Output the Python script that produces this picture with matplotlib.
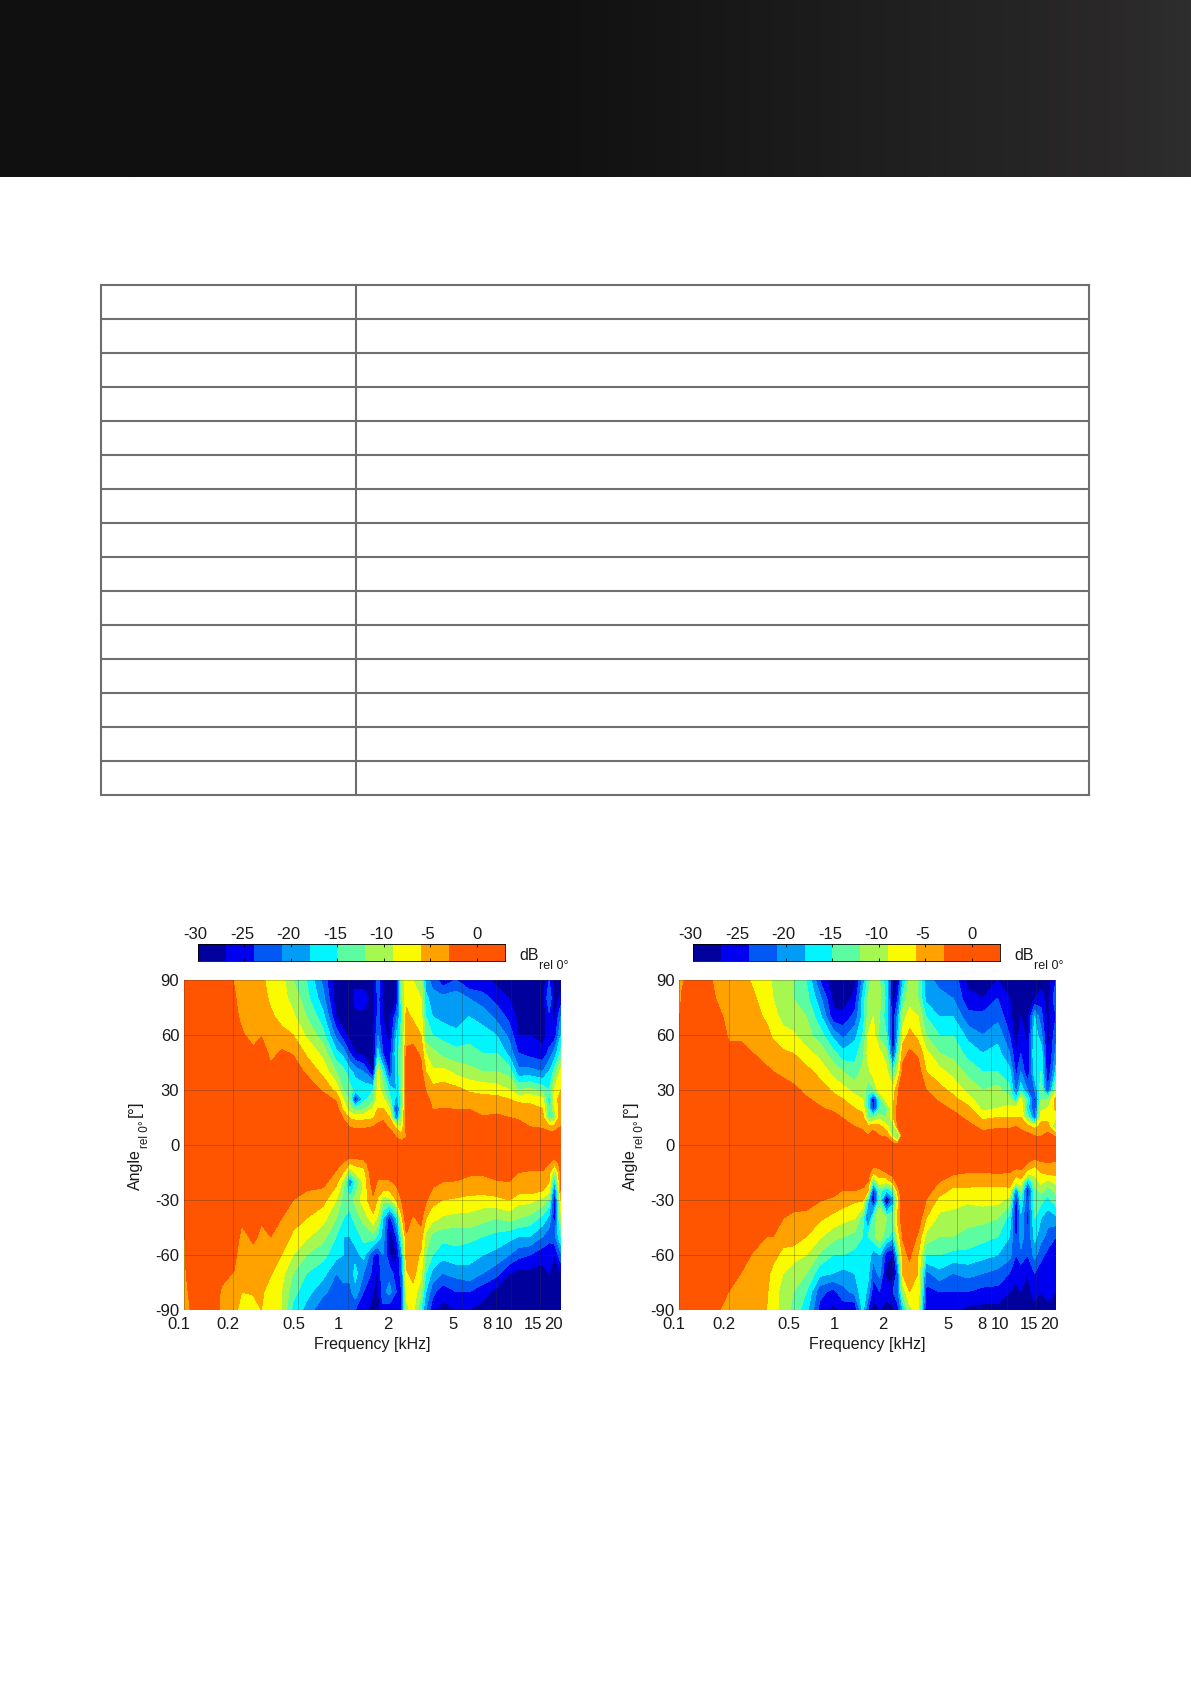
import matplotlib
matplotlib.use('Agg')
import matplotlib.pyplot as plt
from matplotlib.colors import BoundaryNorm, LinearSegmentedColormap, ListedColormap
from matplotlib.transforms import ScaledTranslation
import numpy as np

plt.rcParams['font.family'] = ['Liberation Sans', 'DejaVu Sans']

W, H = 1191, 1684

# dB bands of the colour bar
levels = [-30, -27, -24, -21, -18, -15, -12, -9, -6, -3, 0, 3]
band_colors = ['#00009c', '#0000f0', '#0058f5', '#009cf5', '#00f5ff', '#5cfca0',
               '#a6f850', '#fbfb00', '#ffa200', '#ff5500', '#ff5500']
cbar_ticks = [-30, -25, -20, -15, -10, -5, 0]
cbar_labels = ['-30', '-25', '-20', '-15', '-10', '-5', '0']

angles = [90, 80, 70, 60, 50, 40, 30, 25, 20, 15, 10, 5, 0,
          -5, -10, -15, -20, -25, -30, -40, -50, -60, -70, -80, -90]
angle_ticks = [-90, -60, -30, 0, 30, 60, 90]

freq_ticks = [0.1, 0.2, 0.5, 1, 2, 5, 8, 10, 15, 20]
freq_labels = ['0.1', '0.2', '0.5', '1', '2', '5', '8', '10', '15', '20']
# labels sit a little left of their grid line in the original
freq_label_shift = [-5, -5, -5, -9, -9, -9, -9, -7, -7, -7]

# header gradient, left to right
header_pos = [0, 0.45, 0.65, 0.8, 0.93, 1]
header_cols = ['#101010', '#101010', '#1a1a1a', '#222222', '#2a2828', '#2e2e2e']

table_rows = 15

# one list per frequency, angle +90 down to -90
left_freqs = [0.1, 0.109, 0.144, 0.17, 0.202, 0.225, 0.265, 0.297, 0.339, 0.394, 0.464,
              0.56, 0.707, 0.85, 0.94, 1.03, 1.11, 1.25, 1.43, 1.53, 1.64, 1.8, 1.98,
              2.13, 2.28, 2.5, 2.8, 3.0, 3.3, 3.8, 4.6, 5.5, 6.7, 8.1, 9.7, 11, 12.9,
              15.5, 17, 18.3, 20]
left_db = [
    [0, 0, 0, 0, 0, 0, 0, 0, 0, 0, 0, 0, 0, 0, 0, 0, 0, 0, 0, -2, -3.5, -4, -4.5, -5, -5],
    [0, 0, 0, 0, 0, 0, 0, 0, 0, 0, 0, 0, 0, 0, 0, 0, 0, 0, 0, 0, 0, 0, 0, -2, -3],
    [0, 0, 0, 0, 0, 0, 0, 0, 0, 0, 0, 0, 0, 0, 0, 0, 0, 0, 0, 0, 0, 0, 0, 0, 0],
    [0, 0, 0, 0, 0, 0, 0, 0, 0, 0, 0, 0, 0, 0, 0, 0, 0, 0, 0, 0, 0, 0, -2, -3.5, -4],
    [-3.2, -2.5, -2, -1, 0, 0, 0, 0, 0, 0, 0, 0, 0, 0, 0, 0, 0, 0, 0, 0, 0, -2, -3.2, -4, -4.5],
    [-4.5, -4.5, -3.8, -2.5, -1, 0, 0, 0, 0, 0, 0, 0, 0, 0, 0, 0, 0, 0, 0, -2, -4.5, -5, -5, -6, -8],
    [-5, -5, -5, -4.5, -2, 0, 0, 0, 0, 0, 0, 0, 0, 0, 0, 0, 0, 0, 0, 0, -2, -4.5, -5, -5.5, -8],
    [-5.5, -5, -5, -3.2, -1, 0, 0, 0, 0, 0, 0, 0, 0, 0, 0, 0, 0, 0, 0, -2.5, -4, -5, -5, -5.5, -6],
    [-7, -6.5, -5.5, -5, -4, -2, 0, 0, 0, 0, 0, 0, 0, 0, 0, 0, 0, 0, 0, -1.5, -3, -4.5, -5.8, -7.5, -8],
    [-8, -8, -7, -5, -2.5, -1, 0, 0, 0, 0, 0, 0, 0, 0, 0, 0, 0, 0, -1, -3, -4.5, -6, -8, -9, -9],
    [-12, -10, -8.5, -6, -3.2, -1.5, 0, 0, 0, 0, 0, 0, 0, 0, 0, 0, -1, -2, -3, -5, -6.5, -9, -12, -14, -16],
    [-15, -14, -12, -9.5, -6.5, -3.5, -1, 0, 0, 0, 0, 0, 0, 0, 0, 0, -1.5, -3, -3.8, -6, -8.5, -12, -15, -17, -19],
    [-22, -20, -17, -14, -10, -7, -3.5, -1.5, 0, 0, 0, 0, 0, 0, 0, 0, -2, -3.5, -5, -8, -11, -14, -17, -20, -24],
    [-29, -29, -27, -22, -17, -12, -7, -3.5, -1.5, 0, 0, 0, 0, 0, -1.5, -3.5, -5, -7, -9, -12, -15, -17, -21, -23, -24],
    [-29, -29, -29, -26, -19, -14, -12, -9, -7, -3.5, -1, 0, 0, 0, -3.5, -6, -10, -12, -13, -15, -18, -18, -20, -22, -24],
    [-29, -29, -29, -28, -24, -17, -14, -13, -11, -6.5, -3.2, -1, 0, -1, -6, -12, -22, -17, -14, -16, -18, -19, -20, -22, -24],
    [-28, -26, -28, -29, -27, -19, -16, -27, -14, -7, -3.5, -1, 0, -1, -5, -9, -15, -13, -11, -14, -17, -19, -17, -19, -24],
    [-29, -25, -28, -29, -28, -21, -16, -16, -13, -7, -3.5, -1, 0, -1, -4.5, -7.5, -8, -8, -7.5, -11, -14, -17, -21, -24, -26],
    [-29, -29, -28, -28, -29, -27, -15, -13, -9, -6.5, -3, -1, 0, 0, 0, 0, -1, -2.5, -3.5, -7, -13, -24, -25, -27, -28],
    [-22, -23, -23, -21, -17, -8, -7.5, -7, -6, -3.8, -2.5, -1, 0, 0, 0, -1, -3.5, -5, -6.5, -10, -16, -25, -28, -28, -28],
    [-27, -28, -27, -26, -24, -15, -11, -8, -6, -3.5, -2, 0, 0, 0, 0, -1, -3.5, -6, -11, -18, -19, -21, -21, -22, -25],
    [-29, -29, -28, -28, -26, -25, -16, -14, -9, -6, -3.5, -1, 0, 0, 0, -1, -3.5, -6, -10, -26, -29, -27, -22, -20, -26],
    [-29, -28, -22, -18, -16, -17, -18, -19, -25, -22, -7, -3.5, -1, 0, 0, 0, -2, -4, -6, -18, -24, -28, -26, -24, -26],
    [-10, -13, -15, -14, -13, -13, -13, -14, -13, -11, -9, -5, -1, 0, 0, 0, 0, -1.5, -3, -7, -14, -20, -23, -24, -24],
    [-8, -7, -5, -4, -2.5, -1, 0, 0, 0, 0, -1, -3.5, -1, 0, 0, 0, 0, 0, 0, -1, -3.5, -4.5, -6.5, -8, -10],
    [-9, -8, -6.5, -4, -2, 0, 0, 0, 0, 0, 0, 0, 0, 0, 0, 0, 0, 0, 0, -3.5, -3.5, -4.5, -5, -7, -8],
    [-10, -9, -7.5, -6, -3.5, -2, 0, 0, 0, 0, 0, 0, 0, 0, 0, 0, 0, 0, -1, -2, -4.5, -6.5, -8, -11, -15],
    [-20, -17, -15, -14, -9, -6, -3.2, -2, -1, 0, 0, 0, 0, -1, -3, -1, 0, -1, -2.5, -6, -10, -12, -15, -18, -21],
    [-22, -20, -18, -15, -11, -8.5, -5, -4, -3.2, -2, -1, 0, 0, 0, -1, -2, -2, -3.5, -5, -8, -13, -15, -19, -23, -26],
    [-26, -20, -19, -16, -13, -8, -4.5, -4, -3, -1.5, 0, 0, 0, 0, 0, -1, -3, -4.5, -6, -9.5, -14, -17, -21, -26, -28],
    [-24, -19, -20, -17, -14, -10, -5, -4.5, -3.2, -1.5, 0, 0, 0, 0, 0, -1, -3.2, -4.5, -6.5, -10, -14, -16, -20, -24, -27],
    [-27, -21, -18, -16, -14, -11, -6.5, -4.5, -3.2, -1.5, 0, 0, 0, 0, 0, -2.5, -3.8, -5, -7, -10, -14, -17, -19, -24, -27],
    [-26, -23, -19, -17, -15, -12, -7, -5, -4, -2.8, -1, 0, 0, 0, 0, -2.5, -4, -5, -7.5, -11, -15, -18, -21, -26, -28],
    [-28, -25, -22, -18, -15, -12, -7.5, -5, -3.8, -2.5, -1, 0, 0, 0, 0, -2, -3.2, -4.5, -7, -12, -16, -19, -23, -28, -29],
    [-28, -27, -25, -22, -19, -13, -9, -6, -4, -3, -1, 0, 0, 0, 0, -1.5, -3, -3.8, -6, -11, -17, -21, -27, -29, -29],
    [-29, -29, -28, -27, -24, -20, -12, -7, -4.5, -3.5, -1.5, 0, 0, 0, 0, -3, -5, -5, -8, -12, -18, -23, -28, -29, -29],
    [-29, -29, -28, -27, -25, -20, -11, -7, -5, -4, -3, -1, 0, 0, -1, -3.5, -4.5, -5, -8, -13, -18, -24, -28, -29, -29],
    [-29, -29, -29, -28, -26, -21, -13, -8, -6, -5, -3.5, -1, 0, 0, -1, -3.5, -4.5, -6, -10, -16, -21, -26, -28, -29, -29],
    [-24, -21, -25, -26, -23, -18, -15, -17, -16, -14, -5, -1, 0, 0, -3, -5, -6, -8, -13, -19, -23, -26, -27, -29, -29],
    [-29, -29, -28, -26, -20, -14, -9, -7, -9, -12, -5, -1, 0, -1, -5, -12, -18, -24, -27, -26, -22, -27, -28, -28, -28],
    [-29, -26, -21, -18, -14, -8, -6, -5, -4.5, -3.5, -3, -1, 0, -1, -2, -2.5, -2, -3, -6, -10, -15, -22, -27, -27, -28],
]

right_freqs = [0.1, 0.104, 0.128, 0.169, 0.2, 0.237, 0.283, 0.341, 0.374, 0.431, 0.496,
               0.597, 0.72, 0.87, 1.0, 1.18, 1.32, 1.42, 1.53, 1.67, 1.84, 2.02, 2.16,
               2.32, 2.55, 2.87, 3.22, 3.88, 4.69, 5.78, 7.14, 8.81, 10.4, 11.4, 12.2,
               13.4, 14.8, 16.2, 17.8, 20]
right_db = [
    [-5, -4.5, -3.5, -2, 0, 0, 0, 0, 0, 0, 0, 0, 0, 0, 0, 0, 0, 0, 0, 0, 0, 0, 0, 0, 0],
    [-3.5, -2.5, 0, 0, 0, 0, 0, 0, 0, 0, 0, 0, 0, 0, 0, 0, 0, 0, 0, 0, 0, 0, 0, 0, 0],
    [0, 0, 0, 0, 0, 0, 0, 0, 0, 0, 0, 0, 0, 0, 0, 0, 0, 0, 0, 0, 0, 0, 0, 0, 0],
    [-4, -3.2, -2, 0, 0, 0, 0, 0, 0, 0, 0, 0, 0, 0, 0, 0, 0, 0, 0, 0, 0, 0, 0, 0, -2.5],
    [-5, -5, -4, -3.5, -2, -1, 0, 0, 0, 0, 0, 0, 0, 0, 0, 0, 0, 0, 0, 0, 0, -1, -2, -3, -4.5],
    [-5, -5, -5, -3.5, -2, 0, 0, 0, 0, 0, 0, 0, 0, 0, 0, 0, 0, 0, 0, 0, 0, -1, -3, -3.5, -5],
    [-6.5, -5.5, -5, -4.5, -3, -1, 0, 0, 0, 0, 0, 0, 0, 0, 0, 0, 0, 0, 0, 0, -1, -3.5, -4.5, -5, -5.5],
    [-8, -8, -6.5, -5, -4, -2.5, -1, 0, 0, 0, 0, 0, 0, 0, 0, 0, 0, 0, 0, -1.5, -3, -4.5, -5, -5.5, -6],
    [-9.5, -9, -8, -6.5, -4.5, -3, -1.5, 0, 0, 0, 0, 0, 0, 0, 0, 0, 0, 0, 0, -1.5, -3, -5, -7, -8, -8],
    [-11, -11, -10, -8, -5.5, -3.5, -2, -1, 0, 0, 0, 0, 0, 0, 0, 0, 0, 0, -1, -3, -4.5, -7, -9, -10, -10],
    [-12, -12, -11, -8.5, -6, -4, -2.5, -1, 0, 0, 0, 0, 0, 0, 0, 0, 0, 0, -1.5, -3.8, -4.5, -7.5, -11, -12, -13],
    [-15, -14, -12, -11, -8, -5, -3.5, -2.8, -1, 0, 0, 0, 0, 0, 0, 0, 0, -1, -2, -3.8, -6, -9, -12, -15, -17],
    [-24, -20, -17, -13.5, -10, -7, -4.5, -3.5, -2.8, -1, 0, 0, 0, 0, 0, 0, 0, -1.5, -2.8, -5.5, -8.5, -12.5, -17, -23, -25],
    [-29, -28, -26, -19, -14, -10, -6.5, -5, -3.5, -2, -1, 0, 0, 0, 0, 0, -1, -2, -3.5, -7, -11, -15, -18, -25, -28],
    [-29, -29, -26, -22, -17, -12, -8, -6, -4.5, -3.2, -1.5, -1, 0, 0, 0, 0, -1, -3.2, -4.5, -8, -12, -15, -19, -22, -26],
    [-28, -26, -23, -19, -16, -14, -10, -8, -6, -4.5, -3, -1, 0, 0, 0, -1, -2.5, -3, -5.5, -9, -13, -16, -18, -20, -27],
    [-20, -17, -17, -15, -13, -11, -10, -9, -7, -5, -3.8, -1.5, 0, 0, 0, -1, -2.5, -3.3, -5.5, -14, -15, -15, -15, -16, -17],
    [-14, -12, -11, -9, -8, -10, -14, -16, -15, -12, -5, -3, -1, 0, 0, -1.5, -3, -6, -17, -23, -15, -16, -17, -19, -24],
    [-10, -10, -9, -7.5, -7.5, -7.5, -13, -27, -26, -13, -4, -1.5, 0, 0, -1, -6, -15, -26, -28, -14, -13, -20, -23, -26, -29],
    [-12, -11, -12, -13, -8, -7.5, -7, -14, -15, -10, -5, -3, 0, 0, -1, -4.5, -7, -14, -14, -9, -10, -18, -20, -24, -27],
    [-17, -16, -17, -15, -11, -8, -7, -7.5, -13, -12, -8, -3.5, 0, 0, 0, -3, -8, -18, -29, -12, -14, -26, -28, -26, -28],
    [-28, -29, -26, -28, -25, -15, -8, -7, -6, -6.5, -12, -10, -1, 0, 0, -1.5, -5, -14, -20, -12, -17, -27, -29, -24, -28],
    [-27, -24, -20, -18, -14, -9, -3.5, -3, -2, -1.5, -3, -16, -2, 0, 0, 0, -1.5, -4.5, -8, -5, -8, -16, -22, -22, -25],
    [-18, -14, -10, -8, -4, -2, 0, 0, 0, 0, 0, 0, 0, 0, 0, 0, 0, 0, 0, -1, -2.8, -4, -5.5, -11, -18],
    [-11, -10, -8, -5, -2.5, 0, 0, 0, 0, 0, 0, 0, 0, 0, 0, 0, 0, 0, 0, 0, -1, -2.5, -4, -6, -10],
    [-12, -12, -9, -7, -3.5, -1.5, 0, 0, 0, 0, 0, 0, 0, 0, 0, 0, 0, 0, 0, -1, -3.5, -6, -6, -6.5, -8],
    [-20, -19, -15, -12, -8, -6, -3, -2, -1, 0, 0, 0, 0, 0, 0, 0, -1, -2, -3, -6, -10, -15, -22, -25, -27],
    [-22, -20, -18, -15, -12, -8, -5, -3.5, -2, -1, 0, 0, 0, 0, 0, -1, -3, -4.5, -7, -10, -12, -15, -19, -24, -27],
    [-22, -21, -18, -15, -13, -10, -7, -5, -3.5, -1.5, 0, 0, 0, 0, 0, -2.5, -4.5, -7, -8, -10, -12, -16, -21, -24, -26],
    [-28, -26, -23, -19, -16, -13, -10, -8, -5, -4, -1.5, 0, 0, 0, 0, -3, -4.5, -7, -8.5, -11, -13, -16, -20, -24, -28],
    [-29, -27, -23, -21, -18, -15, -12, -11, -10, -6.5, -4.5, -1, 0, 0, 0, -3, -5, -7, -8, -11, -14, -17, -21, -25, -28],
    [-27, -24, -22, -19, -17, -15, -11, -10, -9, -6, -3.5, -1, 0, 0, 0, -2.8, -5, -7, -8, -12, -15, -18, -22, -25, -28],
    [-28, -27, -26, -24, -21, -17, -14, -11, -8, -6, -3.5, -1, 0, 0, 0, -3, -4.5, -7, -10, -16, -18, -20, -24, -27, -28],
    [-29, -29, -29, -29, -27, -25, -22, -17, -8, -6, -3, -1, 0, 0, -1, -4.5, -8, -22, -26, -27, -25, -24, -26, -28, -29],
    [-29, -28, -27, -25, -24, -21, -16, -8, -7, -6, -4, -1, 0, 0, -1, -4, -7, -12, -15, -19, -19, -22, -26, -27, -29],
    [-29, -29, -28, -28, -27, -27, -21, -15, -17, -13, -5, -2, 0, 0, -3.2, -7, -19, -27, -24, -25, -24, -24, -27, -28, -29],
    [-28, -27, -18, -16, -15, -16, -21, -25, -24, -22, -7, -3, -1, -1, -5, -8, -11, -13, -13, -15, -17, -20, -24, -26, -28],
    [-29, -25, -23, -20, -16, -15, -13, -12, -10, -7, -5, -3.2, -1, -1, -3.5, -6, -8, -11, -14, -18, -20, -23, -26, -27, -29],
    [-29, -29, -28, -28, -28, -27, -24, -12, -9, -7, -4.5, -2, 0, -1, -3.2, -5, -10, -14, -16, -20, -22, -25, -26, -26, -28],
    [-24, -21, -24, -22, -20, -17, -10, -5, -5, -9, -13, -3.5, 0, -1, -3.5, -5, -8, -11, -13, -19, -24, -25, -27, -27, -28],
]


def px_axes(fig, left, top, right, bottom):
    return fig.add_axes([left / W, 1 - bottom / H, (right - left) / W, (bottom - top) / H])


def px_text(fig, x, y, s, size=11.5, rotation=0):
    fig.text(x / W, 1 - y / H, s, fontsize=size, color='#1a1a1a', rotation=rotation,
             rotation_mode='anchor', ha='left', va='baseline')


fig = plt.figure(figsize=(W / 100, H / 100), dpi=100, facecolor='white')

# dark header band
ax_head = px_axes(fig, 0, 0, W, 177)
header_cmap = LinearSegmentedColormap.from_list('header', list(zip(header_pos, header_cols)))
ax_head.imshow(np.linspace(0, 1, 512).reshape(1, -1), cmap=header_cmap, aspect='auto')
ax_head.axis('off')

# empty two column table
ax_table = px_axes(fig, 0, 0, W, H)
ax_table.set_xlim(0, W)
ax_table.set_ylim(H, 0)
ax_table.axis('off')
ax_table.patch.set_alpha(0)
for i in range(table_rows + 1):
    ax_table.plot([101, 1089], [285 + i * 34, 285 + i * 34], color='#6e6e6e', lw=1.5, solid_capstyle='projecting')
for x in [101, 356, 1089]:
    ax_table.plot([x, x], [285, 795], color='#6e6e6e', lw=1.5, solid_capstyle='projecting')

cmap = ListedColormap(band_colors)
norm = BoundaryNorm(levels, cmap.N)


def draw_panel(freqs, db, left, cbar_left, label_x):
    ax = px_axes(fig, left, 980, left + 376.7, 1310)
    z = np.array(db).T
    ax.contourf(freqs, angles, z, levels=levels, cmap=cmap, norm=norm)
    ax.set_xscale('log')
    ax.set_xlim(0.1, 20)
    ax.set_ylim(-90, 90)
    ax.set_yticks(angle_ticks)
    ax.set_yticklabels([str(a) for a in angle_ticks])
    ax.set_xticks(freq_ticks)
    ax.set_xticklabels(freq_labels)
    ax.minorticks_off()
    ax.tick_params(length=0, labelsize=12, colors='#1a1a1a')
    ax.tick_params(axis='y', pad=3.5)
    ax.tick_params(axis='x', pad=5)
    for lab, dx in zip(ax.get_xticklabels(), freq_label_shift):
        lab.set_transform(lab.get_transform() + ScaledTranslation(dx / 100, 0, fig.dpi_scale_trans))
    ax.grid(True, color='#303030', lw=0.6, alpha=0.35)
    for s in ax.spines.values():
        s.set_visible(False)
    ax.set_xlabel('Frequency [kHz]', fontsize=11.5, color='#1a1a1a', labelpad=4)

    # rotated axis label with a lowered subscript
    px_text(fig, label_x, 1190, 'Angle', rotation=90)
    px_text(fig, label_x + 7.7, 1148.3, 'rel 0°', size=8.5, rotation=90)
    px_text(fig, label_x, 1117, '[°]', size=12.5, rotation=90)

    cax = px_axes(fig, cbar_left, 944, cbar_left + 306.7, 960.7)
    cax.pcolormesh(levels, [0, 1], np.array(levels[:-1], dtype=float).reshape(1, -1) + 0.5,
                   cmap=cmap, norm=norm)
    cax.set_xlim(-30, 3)
    cax.set_yticks([])
    cax.set_xticks(cbar_ticks)
    cax.set_xticklabels(cbar_labels)
    cax.xaxis.tick_top()
    cax.tick_params(axis='x', direction='in', length=2, width=0.6, pad=1.5, labelsize=12,
                    labelcolor='#1a1a1a', top=True, bottom=True)
    for lab, tick in zip(cax.get_xticklabels(), cbar_ticks):
        if tick < 0:
            lab.set_transform(lab.get_transform() + ScaledTranslation(-0.023, 0, fig.dpi_scale_trans))
    for s in cax.spines.values():
        s.set_linewidth(0.6)
    px_text(fig, cbar_left + 321, 960, 'dB')
    px_text(fig, cbar_left + 341, 969, 'rel 0°', size=9)


draw_panel(left_freqs, left_db, 184, 198, 140)
draw_panel(right_freqs, right_db, 679.3, 693, 635)

fig.savefig('out.png', dpi=100, facecolor='white')
